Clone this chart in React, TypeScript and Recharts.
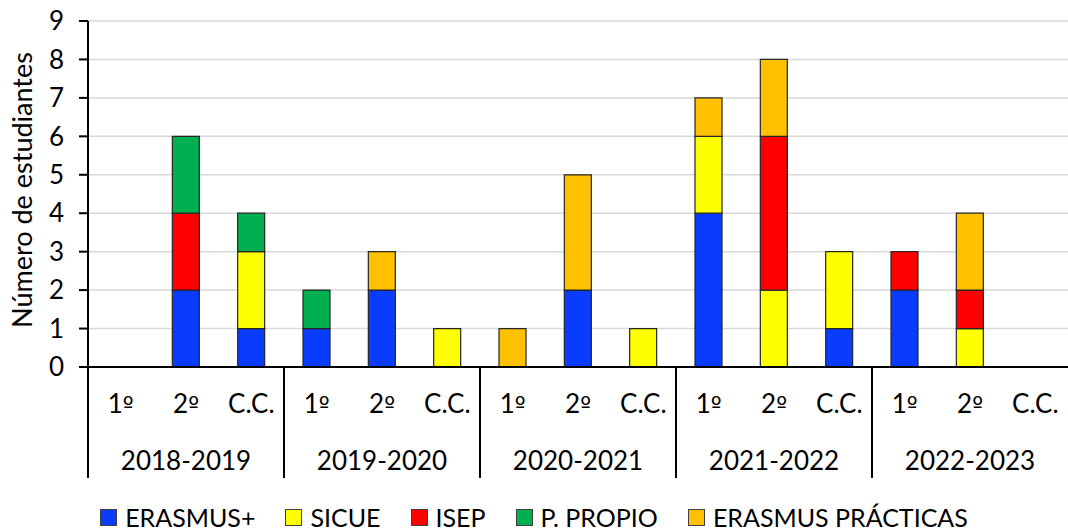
import React from 'react'
import { BarChart, Bar, XAxis, YAxis, CartesianGrid, Legend } from 'recharts'

const years = ['2018-2019', '2019-2020', '2020-2021', '2021-2022', '2022-2023']
const levels = ['1º', '2º', 'C.C.']

// one value per (year, level), in reading order
const erasmus = [0, 2, 1, 1, 2, 0, 0, 2, 0, 4, 0, 1, 2, 0, 0]
const sicue = [0, 0, 2, 0, 0, 1, 0, 0, 1, 2, 2, 2, 0, 1, 0]
const isep = [0, 2, 0, 0, 0, 0, 0, 0, 0, 0, 4, 0, 1, 1, 0]
const propio = [0, 2, 1, 1, 0, 0, 0, 0, 0, 0, 0, 0, 0, 0, 0]
const practicas = [0, 0, 0, 0, 1, 0, 1, 3, 0, 1, 2, 0, 0, 2, 0]

const yTicks = [0, 1, 2, 3, 4, 5, 6, 7, 8, 9]

const series = [
  { key: 'erasmus', name: 'ERASMUS+', color: '#0A3CFF' },
  { key: 'sicue', name: 'SICUE', color: '#FFFF00' },
  { key: 'isep', name: 'ISEP', color: '#FF0000' },
  { key: 'propio', name: 'P. PROPIO', color: '#00B050' },
  { key: 'practicas', name: 'ERASMUS PRÁCTICAS', color: '#FFC000' },
]

const data = years.flatMap((year, yi) =>
  levels.map((level, li) => {
    const i = yi * 3 + li
    return {
      id: `${year}-${level}`,
      level,
      year,
      erasmus: erasmus[i],
      sicue: sicue[i],
      isep: isep[i],
      propio: propio[i],
      practicas: practicas[i],
    }
  })
)

const FONT = 'Lato, "Open Sans", sans-serif'
// Lato's ordinal sign has no underline, the original one does
const ORD_FONT = '"DejaVu Sans", sans-serif'
const WIDTH = 1068
const HEIGHT = 531
const PLOT_LEFT = 88
const BAND = (WIDTH - PLOT_LEFT) / data.length

function LevelText({ value }: { value: string }) {
  if (!value.endsWith('º')) return <>{value}</>
  return (
    <>
      <tspan>{value.slice(0, -1)}</tspan>
      <tspan fontFamily={ORD_FONT} fontSize={23}>º</tspan>
    </>
  )
}

function CategoryTick(props: any) {
  const { x, y, index } = props
  const row = data[index]
  if (!row) return null
  const li = index % 3
  return (
    <g>
      <text x={x} y={y + 46} textAnchor="middle" fontSize={26} fontFamily={FONT} fill="#000">
        <LevelText value={row.level} />
      </text>
      {li === 1 && (
        <text x={x} y={y + 103} textAnchor="middle" fontSize={26} fontFamily={FONT} fill="#000">
          {row.year}
        </text>
      )}
      {li === 0 && (
        <line x1={x - BAND / 2} x2={x - BAND / 2} y1={y} y2={y + 111} stroke="#000" strokeWidth={2} />
      )}
    </g>
  )
}

function YLabel() {
  return (
    <text
      x={32}
      y={190}
      transform="rotate(-90 32 190)"
      textAnchor="middle"
      fontSize={27}
      fontFamily={FONT}
      fill="#000"
    >
      Número de estudiantes
    </text>
  )
}

function LegendContent() {
  return (
    <div style={{ display: 'flex', justifyContent: 'center', alignItems: 'center', fontFamily: FONT, fontSize: 25 }}>
      {series.map((s, i) => (
        <div key={s.key} style={{ display: 'flex', alignItems: 'center', marginLeft: i === 0 ? 0 : 30 }}>
          <span
            style={{
              display: 'inline-block',
              width: 15,
              height: 15,
              background: s.color,
              border: '1px solid #404040',
              marginRight: 8,
            }}
          />
          <span>{s.name}</span>
        </div>
      ))}
    </div>
  )
}

export default function App() {
  return (
    <div style={{ position: 'absolute', left: 0, top: 0, width: WIDTH, height: HEIGHT, background: '#fff' }}>
      <BarChart
        width={WIDTH}
        height={HEIGHT}
        data={data}
        margin={{ top: 21, right: 0, left: 0, bottom: 50 }}
      >
        <CartesianGrid vertical={false} stroke="#d9d9d9" strokeWidth={1.5} />
        <XAxis
          dataKey="id"
          interval={0}
          height={114}
          tickLine={false}
          tickSize={0}
          tickMargin={0}
          axisLine={{ stroke: '#000', strokeWidth: 2 }}
          tick={<CategoryTick />}
        />
        <YAxis
          width={PLOT_LEFT}
          domain={[0, 9]}
          ticks={yTicks}
          interval={0}
          tickSize={9}
          tickMargin={15}
          tick={{ fontSize: 26, fontFamily: FONT, fill: '#000' }}
          tickLine={{ stroke: '#000', strokeWidth: 2 }}
          axisLine={{ stroke: '#000', strokeWidth: 2 }}
          label={<YLabel />}
        />
        <Legend
          layout="horizontal"
          verticalAlign="middle"
          align="center"
          wrapperStyle={{ position: 'absolute', top: 502, left: 0, width: WIDTH }}
          content={<LegendContent />}
        />
        {series.map((s) => (
          <Bar
            key={s.key}
            dataKey={s.key}
            name={s.name}
            stackId="a"
            fill={s.color}
            stroke="#262626"
            strokeWidth={1.2}
            barSize={27}
            isAnimationActive={false}
          />
        ))}
      </BarChart>
    </div>
  )
}
